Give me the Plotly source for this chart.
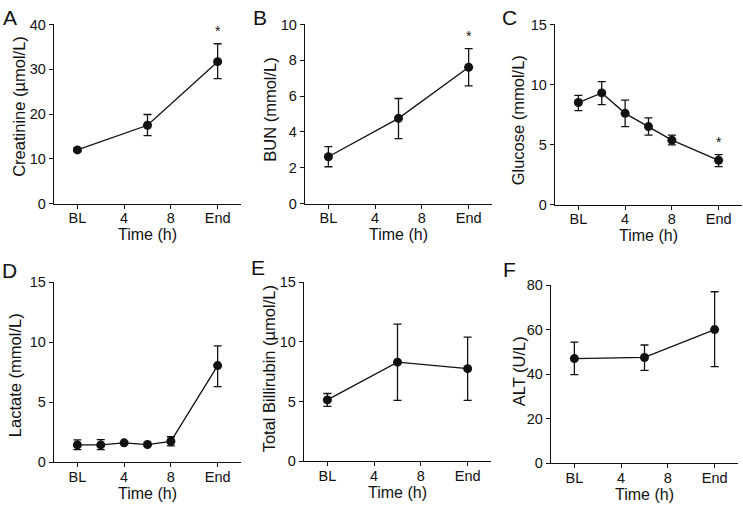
import plotly.graph_objects as go

W, H = 743, 511

# ---------------- data ----------------
tick_vals = [0, 4, 8, 12]
tick_text = ["BL", "4", "8", "End"]

t3 = [0, 6, 12]
t6 = [0, 2, 4, 6, 8, 12]

creat = [12.0, 17.5, 31.7]
creat_up = [0.4, 2.4, 4.0]
creat_dn = [0.4, 2.3, 3.8]

bun = [2.62, 4.76, 7.61]
bun_up = [0.56, 1.11, 1.04]
bun_dn = [0.56, 1.13, 1.04]

glucose = [8.5, 9.3, 7.6, 6.5, 5.37, 3.69]
glucose_up = [0.6, 0.95, 1.1, 0.72, 0.41, 0.48]
glucose_dn = [0.67, 0.98, 1.1, 0.72, 0.40, 0.53]

lactate = [1.45, 1.45, 1.62, 1.48, 1.75, 8.05]
lactate_up = [0.41, 0.44, 0.08, 0.06, 0.38, 1.65]
lactate_dn = [0.40, 0.40, 0.08, 0.06, 0.38, 1.75]

bili = [5.14, 8.3, 7.76]
bili_up = [0.54, 3.19, 2.64]
bili_dn = [0.54, 3.20, 2.66]

alt = [47.0, 47.5, 60.0]
alt_up = [7.4, 5.6, 17.0]
alt_dn = [7.2, 5.8, 16.6]

panels = [
    # letter, title, x, y, up, dn, yrange, dtick, significant(end)
    ("A", "Creatinine (µmol/L)", t3, creat, creat_up, creat_dn, [0, 40], 10, True),
    ("B", "BUN (mmol/L)", t3, bun, bun_up, bun_dn, [0, 10], 2, True),
    ("C", "Glucose (mmol/L)", t6, glucose, glucose_up, glucose_dn, [0, 15], 5, True),
    ("D", "Lactate (mmol/L)", t6, lactate, lactate_up, lactate_dn, [0, 15], 5, False),
    ("E", "Total Billirubin (µmol/L)", t3, bili, bili_up, bili_dn, [0, 15], 5, False),
    ("F", "ALT (U/L)", t3, alt, alt_up, alt_dn, [0, 80], 20, False),
]

# ---------------- layout geometry (pixels) ----------------
# x0, x1, ytop, ybottom
boxes = [
    (54, 241, 17, 202),
    (305, 492, 17, 202),
    (555, 742, 17, 203),
    (54, 241, 283, 469),
    (304, 491, 283, 468),
    (551, 738, 286, 470),
]
ytitle_pos = [(19, 102), (270, 105), (518, 116), (15, 379), (269, 373), (519, 375)]
letter_pos = [(10, 10), (260, 10), (510, 10), (9, 271), (258, 268), (509, 270)]

FONT = "Liberation Sans, Arial, Helvetica, sans-serif"
INK = "#111111"

fig = go.Figure()
annotations = []
layout_axes = {}

for i, (letter, title, xs, ys, up, dn, yr, dt, sig) in enumerate(panels):
    n = "" if i == 0 else str(i + 1)
    x0, x1, yt, yb = boxes[i]
    fig.add_trace(go.Scatter(
        x=xs, y=ys, mode="lines+markers",
        xaxis="x" + n, yaxis="y" + n,
        line=dict(color=INK, width=1.3),
        marker=dict(color=INK, size=9),
        error_y=dict(type="data", symmetric=False, array=up, arrayminus=dn,
                     color=INK, thickness=1.3, width=4),
        showlegend=False, cliponaxis=False,
    ))
    layout_axes["xaxis" + n] = dict(
        domain=[x0 / W, x1 / W], anchor="y" + n, range=[-2, 14],
        tickmode="array", tickvals=tick_vals, ticktext=tick_text,
        showline=True, linecolor=INK, linewidth=1.3, ticks="outside",
        ticklen=4, tickwidth=1.3, tickcolor=INK, showgrid=False, zeroline=False,
        ticklabelstandoff=-3,
        tickfont=dict(family=FONT, size=14.5, color=INK), fixedrange=True,
    )
    layout_axes["yaxis" + n] = dict(
        domain=[1 - yb / H, 1 - yt / H], anchor="x" + n, range=yr, dtick=dt,
        showline=True, linecolor=INK, linewidth=1.3, ticks="outside",
        ticklen=4, tickwidth=1.3, tickcolor=INK, showgrid=False, zeroline=False,
        tickfont=dict(family=FONT, size=14.5, color=INK), fixedrange=True,
    )
    # y-axis title
    tx, ty = ytitle_pos[i]
    annotations.append(dict(
        text=title, x=tx / W, y=1 - ty / H, xref="paper", yref="paper",
        textangle=-90, showarrow=False, xanchor="center", yanchor="middle",
        font=dict(family=FONT, size=16.5, color=INK)))
    # x-axis title
    annotations.append(dict(
        text="Time (h)", x=(x0 + x1) / 2 / W, y=1 - (yb + 32) / H,
        xref="paper", yref="paper", showarrow=False,
        xanchor="center", yanchor="middle",
        font=dict(family=FONT, size=16, color=INK)))
    # panel letter
    lx, ly = letter_pos[i]
    annotations.append(dict(
        text=letter, x=lx / W, y=1 - ly / H, xref="paper", yref="paper",
        showarrow=False, xanchor="center", yanchor="middle",
        font=dict(family=FONT, size=21, color=INK)))
    # significance asterisk
    if sig:
        annotations.append(dict(
            text="*", x=xs[-1], y=ys[-1] + up[-1], xref="x" + n, yref="y" + n,
            showarrow=False, xanchor="center", yanchor="middle", yshift=13,
            font=dict(family=FONT, size=14, color=INK)))

fig.update_layout(
    width=W, height=H, margin=dict(l=0, r=0, t=0, b=0),
    paper_bgcolor="white", plot_bgcolor="white",
    annotations=annotations, showlegend=False,
    **layout_axes,
)

fig.write_html(
    "out.html",
    config={"displayModeBar": False},
    post_script="document.body.style.margin='0';document.body.style.overflow='hidden';",
)
